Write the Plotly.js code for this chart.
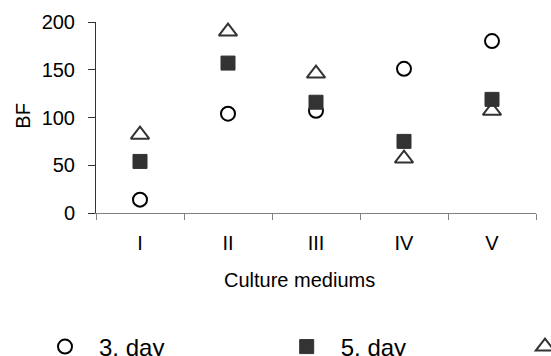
<!DOCTYPE html>
<html>
<head>
<meta charset="utf-8">
<script src="https://cdn.plot.ly/plotly-3.0.1.min.js"></script>
<style>html,body{margin:0;padding:0;background:#fff;}#chart{width:551px;height:356px;}</style>
</head>
<body>
<div id="chart"></div>
<script>
const categories = ["I", "II", "III", "IV", "V"];
const day3 = [14, 104, 107, 151, 180];
const day5 = [54, 157, 116, 75, 119];
const day7 = [82, 190, 146, 57, 107];
const seriesNames = ["3. day", "5. day", "7. day"];
const yTicks = [0, 50, 100, 150, 200];

const FONT = '"Liberation Sans", Arial, sans-serif';

const traces = [
  {
    x: categories, y: day3, name: seriesNames[0], type: 'scatter', mode: 'markers',
    marker: {symbol: 'circle-open', size: 14, color: '#000', line: {color: '#000', width: 2}},
    legend: 'legend'
  },
  {
    x: categories, y: day5, name: seriesNames[1], type: 'scatter', mode: 'markers',
    marker: {symbol: 'square', size: 14, color: '#333', line: {color: '#333', width: 1}},
    legend: 'legend2'
  },
  {
    x: categories, y: day7, name: seriesNames[2], type: 'scatter', mode: 'markers',
    marker: {symbol: 'triangle-up-open', size: 16, color: '#333', line: {color: '#333', width: 2}},
    legend: 'legend3'
  }
];

function leg(xpx) {
  return {
    xref: 'container', yref: 'container',
    x: xpx / 551, xanchor: 'left',
    y: 1 - 347 / 356, yanchor: 'middle',
    orientation: 'v', itemwidth: 58,
    font: {family: FONT, size: 24, color: '#000'},
    bgcolor: 'rgba(0,0,0,0)', borderwidth: 0
  };
}

const plotTop = 22.3, plotBottom = 213.3;
function paperY(px) { return (plotBottom - px) / (plotBottom - plotTop); }

const layout = {
  width: 551, height: 356,
  margin: {l: 96, r: 15, t: 22, b: 143, pad: 0, autoexpand: false},
  paper_bgcolor: '#fff', plot_bgcolor: '#fff',
  font: {family: FONT, size: 20, color: '#000'},
  showlegend: true,
  xaxis: {
    type: 'category', range: [-0.5, 4.5],
    showgrid: false, zeroline: false,
    showline: true, linecolor: '#808080', linewidth: 1,
    ticks: 'outside', ticklen: 6, tickcolor: '#808080', tickwidth: 1,
    tickson: 'boundaries', ticklabelstandoff: 12,
    tickfont: {family: FONT, size: 20, color: '#000'}
  },
  yaxis: {
    range: [0, 200], tickvals: yTicks, ticktext: yTicks.map(String),
    showgrid: false, zeroline: false,
    showline: true, linecolor: '#333', linewidth: 1,
    ticks: 'outside', ticklen: 7, tickcolor: '#333', tickwidth: 1,
    ticklabelstandoff: 9,
    tickfont: {family: FONT, size: 20, color: '#000'}
  },
  annotations: [
    {
      text: 'Culture mediums', xref: 'paper', yref: 'paper',
      x: (299 - 96) / 440, xanchor: 'center',
      y: paperY(280), yanchor: 'middle',
      showarrow: false, font: {family: FONT, size: 20, color: '#000'}
    },
    {
      text: 'BF', xref: 'paper', yref: 'paper',
      x: (23 - 96) / 440, xanchor: 'center',
      y: paperY(116), yanchor: 'middle', textangle: -90,
      showarrow: false, font: {family: FONT, size: 20, color: '#000'}
    }
  ],
  legend: leg(31),
  legend2: leg(272.7),
  legend3: leg(511)
};

Plotly.newPlot('chart', traces, layout, {staticPlot: true, displayModeBar: false});
</script>
</body>
</html>
